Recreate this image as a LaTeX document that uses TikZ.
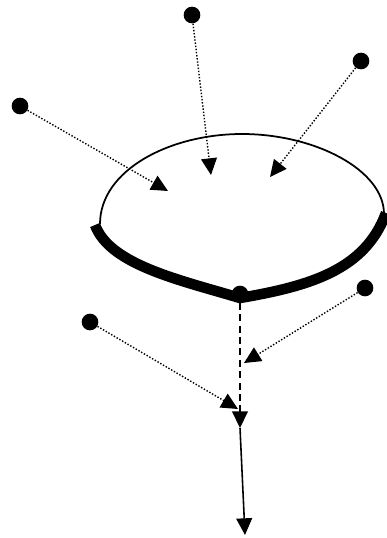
\documentclass[tikz,border=0pt]{standalone}
\usepackage{tikz}
\usetikzlibrary{arrows.meta}

\tikzset{
  dot/.style={circle, fill=black, inner sep=0pt, minimum size=9.5pt},
  feed/.style={densely dotted, line width=0.8pt, -{Triangle[length=9.5pt,width=9pt]}},
  tip/.style={-{Triangle[length=9.5pt,width=9pt]}}
}

\begin{document}
\begin{tikzpicture}[x=0.02cm, y=-0.02cm]
  \useasboundingbox (0,0) rectangle (386,538);
  % outer points
  \node[dot] (A) at (192,15) {};
  \node[dot] (B) at (361,61) {};
  \node[dot] (C) at (20,106) {};
  \node[dot] (E) at (365,288) {};
  \node[dot] (F) at (90,322) {};
  % arrow ends
  \coordinate (TA) at (211,175);
  \coordinate (TB) at (270,177);
  \coordinate (TC) at (168,191);
  \coordinate (TE) at (244,363);
  \coordinate (TF) at (238,409);
  \coordinate (M) at (240,428);
  \coordinate (Z) at (245,535);
  % loop
  \draw[line width=1pt] (100,224) .. controls (100,170) and (170,134) .. (242,134)
    .. controls (315,134) and (384,170) .. (384,214);
  \draw[line width=6pt] (95,225) .. controls (110,265) and (180,280) .. (240,298)
    .. controls (310,286) and (365,270) .. (386,213);
  \node[dot] (D) at (240,294) {};
  % inputs
  \draw[feed] (A) -- (TA);
  \draw[feed] (B) -- (TB);
  \draw[feed] (C) -- (TC);
  \draw[feed] (E) -- (TE);
  \draw[feed] (F) -- (TF);
  \draw[dashed, line width=0.9pt, dash pattern=on 4pt off 2.5pt, tip] (D) -- (M);
  \draw[line width=0.9pt, tip] (M) -- (Z);
\end{tikzpicture}
\end{document}
